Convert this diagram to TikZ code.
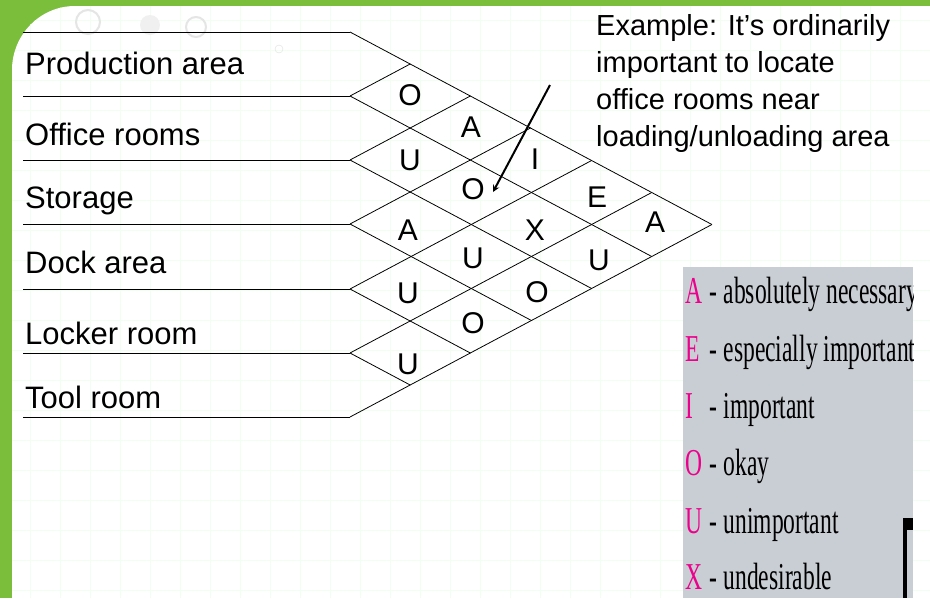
\documentclass[tikz,border=0pt]{standalone}
\usepackage{fontspec}
\setmainfont{Liberation Sans}
\newfontfamily\legfont{Liberation Serif}
\definecolor{frame}{RGB}{122,190,60}
\definecolor{leggray}{RGB}{201,206,212}
\begin{document}
\begin{tikzpicture}[x=1pt,y=-1pt,
  lbl/.style={anchor=base west,font=\fontsize{31}{36}\selectfont,inner sep=0},
  cell/.style={font=\fontsize{30}{36}\selectfont,inner sep=0},
  leg/.style={anchor=base west,inner sep=0,font=\legfont\fontsize{38}{44}\selectfont,xscale=0.62},
  grid/.style={line width=0.8pt}]
\useasboundingbox (0,0) rectangle (930,598);
\fill[frame] (0,0) rectangle (930,598);
\fill[white] (12,598) -- (12,70) to[out=90,in=180] (75,6) -- (930,6) -- (930,598) -- cycle;
\begin{scope}
\clip (12,598) -- (12,70) to[out=90,in=180] (75,6) -- (930,6) -- (930,598) -- cycle;
\foreach \x in {30,60,...,930} \draw[green!6] (\x,0) -- (\x,598);
\foreach \y in {20,50,...,598} \draw[green!6] (0,\y) -- (930,\y);
\end{scope}
\draw[gray!20,line width=2pt] (88,22) circle (12);
\draw[gray!20,line width=2pt] (196,27) circle (10);
\fill[gray!12] (150,25) circle (10);
\draw[gray!25] (279,49) circle (4);
% row lines
\foreach \i/\y in {0/32,1/96,2/160,3/224,4/289,5/353,6/417}{
  \coordinate (P\i) at (350,\y);
  \coordinate (L\i) at (23,\y);
  \draw[grid] (L\i) -- (P\i);
}
\foreach \i in {0,...,5}{
  \pgfmathsetmacro{\dx}{0.94*(417-32-64.17*\i)}
  \pgfmathsetmacro{\dy}{0.5*(417-32-64.17*\i)}
  \draw[grid] (P\i) -- ++(\dx,\dy);
}
\foreach \j in {1,...,6}{
  \pgfmathsetmacro{\dx}{0.94*(64.17*\j)}
  \pgfmathsetmacro{\dy}{-0.5*(64.17*\j)}
  \draw[grid] (P\j) -- ++(\dx,\dy);
}
\node[lbl] (r0) at (25,74) {Production area};
\node[lbl] (r1) at (25,145) {Office rooms};
\node[lbl] (r2) at (25,208) {Storage};
\node[lbl] (r3) at (25,273) {Dock area};
\node[lbl] (r4) at (25,344) {Locker room};
\node[lbl] (r5) at (25,408) {Tool room};
% cells
\node[cell] (c01) at (410,95) {O};
\node[cell] (c12) at (410,160) {U};
\node[cell] (c23) at (408,230) {A};
\node[cell] (c34) at (408,293) {U};
\node[cell] (c45) at (408,364) {U};
\node[cell] (c02) at (471,127) {A};
\node[cell] (c13) at (473,189) {O};
\node[cell] (c24) at (473,258) {U};
\node[cell] (c35) at (473,323) {O};
\node[cell] (c03) at (535,159) {I};
\node[cell] (c14) at (535,230) {X};
\node[cell] (c25) at (537,292) {O};
\node[cell] (c04) at (597,197) {E};
\node[cell] (c15) at (599,260) {U};
\node[cell] (c05) at (655,222) {A};
% example
\node[anchor=north west,align=left,inner sep=0,font=\fontsize{29}{37}\selectfont] (ex) at (596,14)
 {Example: It’s ordinarily\\important to locate\\office rooms near\\loading/unloading area};
\coordinate (as) at (550,85);
\draw[line width=2pt,-stealth] (as) -- (493,192);
% legend
\begin{scope}
\clip (683,267) rectangle (913,598);
\fill[leggray] (683,267) rectangle (913,598);
\foreach \l/\t/\y in {A/absolutely necessary/303,E/especially important/361,I/important/418,O/okay/475,U/unimportant/533,X/undesirable/589}
  \node[leg] at (685,\y) {\makebox[1.05em][l]{\textcolor{magenta}{\l}}- \t};
\fill[black] (903,518) rectangle (913,530);
\fill[black] (903,518) rectangle (907,598);
\end{scope}
\end{tikzpicture}
\end{document}
